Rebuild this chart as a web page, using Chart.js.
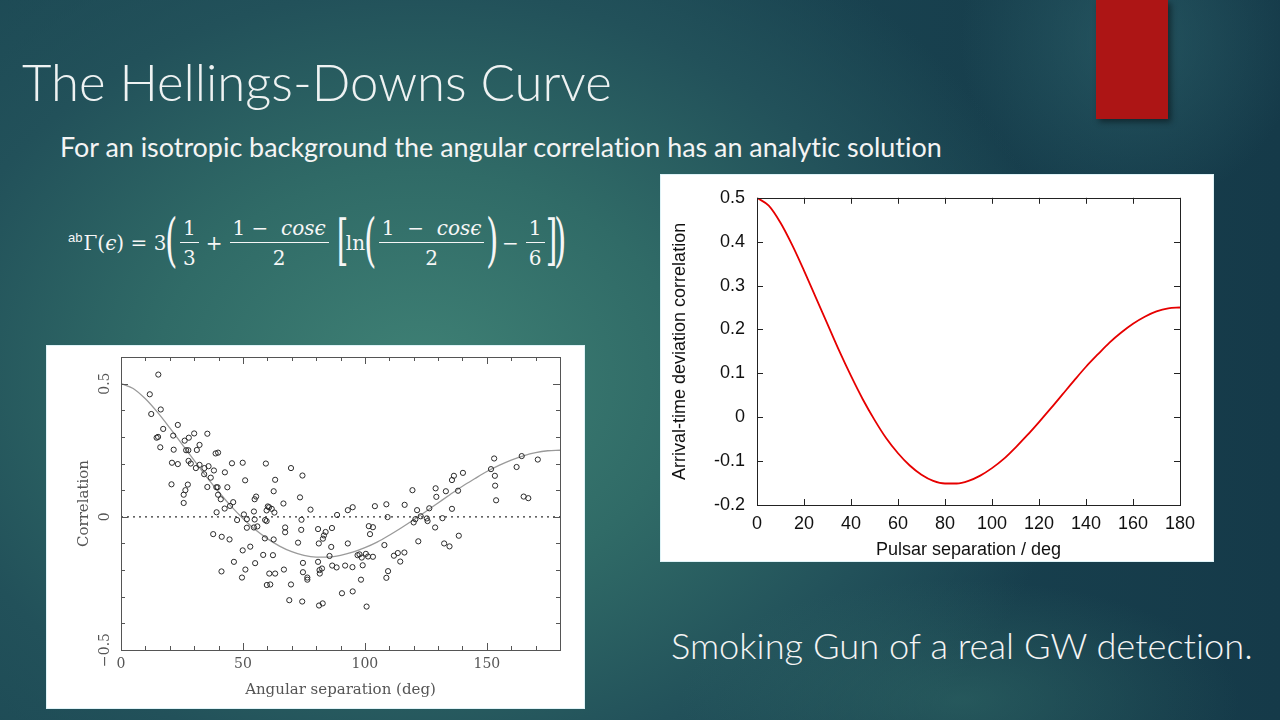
<!DOCTYPE html>
<html><head><meta charset="utf-8">
<script src="https://cdn.jsdelivr.net/npm/chart.js@4.4.1/dist/chart.umd.min.js"></script>
<style>
html,body{margin:0;padding:0;width:1280px;height:720px;overflow:hidden;}
body{position:relative;font-family:'Lato','Open Sans',sans-serif;color:#f2f2f2;font-variant-ligatures:none;
background:
 radial-gradient(circle 170px at 1130px 40px, rgba(48,104,112,0.55), rgba(48,104,112,0) 100%),
 radial-gradient(ellipse 280px 120px at 960px 700px, rgba(52,112,106,0.5), rgba(52,112,106,0)),
 radial-gradient(ellipse 660px 520px at 420px 380px, #3f8175 0%, #306b67 40%, #22515a 75%, rgba(27,68,80,0) 100%),
 linear-gradient(90deg, #1d4a55 0%, #1a4552 50%, #153a49 100%);}
.txt{position:absolute;white-space:nowrap;line-height:1;font-variant-ligatures:none;}
#title{left:22px;top:57px;font-size:50px;font-weight:300;color:#eef2f2;}
#sub{left:60px;top:134px;font-size:22px;font-weight:400;color:#f4f4f4;}
#smoke{left:671px;top:627px;font-size:32px;font-weight:300;color:#f4f4f4;}
#redbox{position:absolute;left:1096px;top:0;width:72px;height:119px;background:#ad1515;box-shadow:3px 3px 6px rgba(0,0,0,0.45);}
#formula{position:absolute;left:68px;top:207px;height:72px;display:flex;align-items:center;font-family:'DejaVu Serif','Liberation Serif',serif;font-size:20px;color:#f6f6f6;white-space:nowrap;}
#formula .sup{font-family:'Liberation Sans',sans-serif;font-size:13px;position:relative;top:-6px;margin-right:1px;}
#formula .frac{display:inline-flex;flex-direction:column;align-items:center;margin:0 3px;}
#formula .num{border-bottom:1.3px solid #f6f6f6;padding:0 3px 2px 3px;}
#formula .den{padding-top:3px;}
#formula .bigp{font-size:58px;font-weight:200;transform:scaleX(0.55);display:inline-block;margin:0 -6px;position:relative;top:-3px;}
#formula .bigb{font-size:54px;font-weight:200;transform:scaleX(0.55);display:inline-block;margin:0 -7px;position:relative;top:-3px;}
#formula .op{margin:0 4px;}
#formula i{font-style:italic;}
.box{position:absolute;background:#fff;box-shadow:0 0 0 1px #dff3f7;}
#box1{left:47px;top:346px;width:537px;height:362px;}
#box2{left:661px;top:175px;width:552px;height:386px;}
canvas{display:block;}
</style></head>
<body>
<div id="redbox"></div>
<div class="txt" id="title" data-w="590">The Hellings-Downs Curve</div>
<div class="txt" id="sub" data-w="882">For an isotropic background the angular correlation has an analytic solution</div>
<div id="formula">
 <span class="sup">ab</span><span>Γ(</span><i>ϵ</i><span>) = 3</span>
 <span class="bigp">(</span>
 <span class="frac"><span class="num">1</span><span class="den">3</span></span>
 <span class="op">+</span>
 <span class="frac"><span class="num">1 −&nbsp; <i>cosϵ</i></span><span class="den">2</span></span>
 <span class="bigb" style="margin-left:0">[</span>
 <span>ln</span>
 <span class="bigp">(</span>
 <span class="frac"><span class="num">1 &nbsp;− &nbsp;<i>cosϵ</i></span><span class="den">2</span></span>
 <span class="bigp">)</span>
 <span class="op">−</span>
 <span class="frac"><span class="num">1</span><span class="den">6</span></span>
 <span class="bigb">]</span><span class="bigp">)</span>
</div>
<div class="box" id="box1"><canvas id="c1" width="537" height="362"></canvas></div>
<div class="box" id="box2"><canvas id="c2" width="552" height="386"></canvas></div>
<div class="txt" id="smoke" data-w="582">Smoking Gun of a real GW detection.</div>
<script>
// ---- data ----
const scatterDeg = [15.3,11.8,12.4,16.3,17.3,14.6,15.2,16.1,21.4,23.3,
21.6,20.9,23.3,20.7,25.7,25.7,26.4,27.4,26.1,27.8,
30.0,26.7,27.6,27.7,28.6,31.1,32.2,30.7,32.2,34.2,
34.1,35.4,35.9,36.8,35.4,38.1,38.8,39.8,39.1,39.6,
39.8,40.9,39.2,42.6,43.6,42.5,44.7,46.0,45.5,37.8,
41.3,44.5,41.2,46.3,47.6,49.9,50.9,50.4,51.6,51.6,
49.9,51.0,49.6,53.0,54.5,54.8,55.4,54.8,54.5,55.9,
55.0,59.4,59.1,59.7,60.2,59.7,60.7,61.8,62.9,63.2,
62.6,62.6,59.0,58.3,62.3,60.8,63.2,59.8,61.2,66.6,
67.3,67.3,66.8,69.7,69.7,69.0,73.4,74.0,73.9,72.6,
74.4,74.6,74.6,76.4,76.4,74.3,77.7,80.8,81.1,80.8,
81.4,81.5,82.4,81.2,82.7,82.8,83.2,83.9,86.5,86.2,
85.5,86.6,88.4,88.6,90.6,91.9,93.0,93.0,95.0,94.9,
95.0,97.0,97.8,98.7,99.1,98.4,100.4,101.3,100.7,101.6,
103.3,102.1,103.3,104.1,108.0,108.8,109.3,109.5,108.8,111.9,
113.5,114.5,116.2,116.3,119.5,120.0,120.7,121.4,121.9,122.9,
125.4,125.7,126.4,129.0,129.3,128.8,131.8,132.5,133.2,134.7,
135.7,135.7,136.5,138.2,138.5,140.2,151.7,153.0,153.3,153.4,
153.8,162.2,164.3,165.1,167.0,170.9];
const scatterCorr = [0.534,0.46,0.386,0.403,0.33,0.297,0.30,0.261,0.305,0.345,
0.252,0.203,0.198,0.122,0.052,0.083,0.10,0.121,0.286,0.297,
0.313,0.25,0.25,0.21,0.20,0.251,0.27,0.183,0.195,0.183,
0.16,0.312,0.19,0.147,0.112,0.174,0.238,0.241,0.111,0.111,
0.083,0.066,0.017,0.167,0.111,0.031,0.041,0.055,0.201,-0.065,
-0.075,-0.085,-0.205,-0.169,-0.012,0.203,0.137,0.009,-0.009,-0.041,
-0.126,-0.198,-0.228,-0.112,0.02,0.066,0.076,-0.01,-0.04,-0.036,
-0.174,0.20,-0.012,-0.016,0.039,0.024,0.036,0.03,0.016,0.139,
0.096,-0.085,-0.081,-0.143,-0.144,-0.213,-0.213,-0.256,-0.254,0.05,
-0.04,-0.058,-0.198,0.183,-0.254,-0.313,0.073,-0.011,-0.049,-0.097,
0.155,-0.173,-0.208,-0.228,-0.236,-0.318,0.027,-0.046,-0.10,-0.169,
-0.20,-0.213,-0.194,-0.333,-0.325,-0.082,-0.07,-0.057,-0.042,-0.113,
-0.147,-0.183,-0.19,0.007,-0.287,-0.183,-0.10,0.025,0.036,-0.189,
-0.28,-0.144,-0.141,-0.153,-0.182,-0.236,-0.139,-0.149,-0.337,-0.035,
-0.039,-0.065,-0.15,0.04,-0.106,0.047,-0.001,-0.204,-0.229,-0.146,
-0.136,-0.168,-0.134,0.045,0.10,-0.021,-0.009,0.025,-0.092,0.002,
-0.006,-0.016,0.032,0.107,0.075,-0.04,-0.005,-0.10,0.096,-0.111,
0.03,0.138,0.154,0.098,-0.071,0.165,0.179,0.219,0.154,0.117,
0.062,0.187,0.228,0.076,0.07,0.215];
// Hellings-Downs curve (separation in degrees, correlation)
const curveDeg  = [0,5,10,15,20,25,30,35,40,45,50,55,60,65,70,75,80,85,90,95,100,105,110,115,120,125,130,135,140,145,150,155,160,165,170,175,180];
const curveCorr = [0.500,0.482,0.443,0.392,0.334,0.273,0.212,0.151,0.094,0.041,-0.006,-0.048,-0.082,-0.110,-0.131,-0.145,-0.151,-0.151,-0.145,-0.133,-0.116,-0.095,-0.069,-0.041,-0.011,0.020,0.052,0.084,0.115,0.143,0.170,0.193,0.213,0.229,0.241,0.248,0.250];
// dotted zero reference line on the left plot
const zeroLineDeg = [0,180];
const zeroLineCorr = [0,0];
// axis tick labels
const leftXLabels = ['0','50','100','150'];
const leftYLabels = ['0.5','0','\u22120.5'];
const leftYLabelValues = [0.5,0,-0.5];
const rightXTicks = ['0','20','40','60','80','100','120','140','160','180'];

// fit slide text widths
document.querySelectorAll('[data-w]').forEach(el=>{
  const t=+el.dataset.w, w=el.getBoundingClientRect().width;
  const fs=parseFloat(getComputedStyle(el).fontSize);
  el.style.fontSize=(fs*t/w)+'px';
});

const pts = (xs,ys)=>xs.map((x,i)=>({x:x,y:ys[i]}));

// draws the closed frame with inward ticks on all 4 sides (positions from the chart's scales)
const frameTicks = {
  id:'frameTicks',
  afterDatasetsDraw(chart, args, o){
    const {ctx, chartArea:a} = chart;
    const x = chart.scales.x, y = chart.scales.y;
    ctx.save();
    ctx.strokeStyle=o.color; ctx.lineWidth=o.lw;
    ctx.strokeRect(Math.round(a.left)+0.5, Math.round(a.top)+0.5, Math.round(a.right-a.left), Math.round(a.bottom-a.top));
    ctx.beginPath();
    x.ticks.forEach(t=>{
      const p=Math.round(x.getPixelForValue(t.value))+0.5;
      const L=o.isMajorX(t.value)?o.major:o.minor;
      ctx.moveTo(p,a.bottom); ctx.lineTo(p,a.bottom-L);
      ctx.moveTo(p,a.top); ctx.lineTo(p,a.top+L);
    });
    y.ticks.forEach(t=>{
      const p=Math.round(y.getPixelForValue(t.value))+0.5;
      const L=o.isMajorY(t.value)?o.major:o.minor;
      ctx.moveTo(a.left,p); ctx.lineTo(a.left+L,p);
      ctx.moveTo(a.right,p); ctx.lineTo(a.right-L,p);
    });
    ctx.stroke();
    if(o.rotLabels){
      ctx.fillStyle=o.labelColor; ctx.font=o.labelFont;
      ctx.textAlign='center'; ctx.textBaseline='middle';
      o.rotLabels.values.forEach((v,i)=>{
        const p=y.getPixelForValue(v);
        ctx.save(); ctx.translate(a.left-o.rotLabels.offset,p); ctx.rotate(-Math.PI/2);
        ctx.fillText(o.rotLabels.texts[i],0,0); ctx.restore();
      });
    }
    ctx.restore();
  }
};

const serif = "'DejaVu Serif', serif";
new Chart(document.getElementById('c1'), {
  type:'scatter',
  data:{datasets:[
    {type:'line',data:pts(zeroLineDeg,zeroLineCorr),borderColor:'#333',borderWidth:1.3,borderDash:[2,4],pointRadius:0,order:3},
    {type:'line',data:pts(curveDeg,curveCorr),borderColor:'#9a9a9a',borderWidth:1.3,pointRadius:0,cubicInterpolationMode:'monotone',order:2},
    {type:'scatter',data:pts(scatterDeg,scatterCorr),pointStyle:'circle',pointRadius:2.6,pointBorderWidth:1,
      pointBorderColor:'#2a2a2a',pointBackgroundColor:'rgba(0,0,0,0)',order:1}
  ]},
  options:{
    responsive:false,animation:false,
    layout:{padding:{left:0,right:24,top:11,bottom:0}},
    plugins:{legend:{display:false},tooltip:{enabled:false},
      frameTicks:{color:'#555',lw:1,major:7,minor:4,
        isMajorX:v=>Math.abs(v%50)<1e-6,
        isMajorY:v=>Math.abs(v*2-Math.round(v*2))<1e-6,
        rotLabels:{values:leftYLabelValues,texts:leftYLabels,offset:16},
        labelColor:'#555',labelFont:"14px "+serif}},
    scales:{
      x:{type:'linear',min:0,max:180,
        afterFit:s=>{s.height=58;},
        grid:{display:false,drawTicks:false},border:{display:false},
        ticks:{stepSize:10,autoSkip:false,maxRotation:0,padding:6,color:'#555',font:{family:serif,size:14},
          callback:v=>{const i=[0,50,100,150].indexOf(v);return i>=0?leftXLabels[i]:'';}},
        title:{display:true,text:'Angular separation (deg)',color:'#555',font:{family:serif,size:15},padding:9}},
      y:{type:'linear',min:-0.5,max:0.6,
        afterFit:s=>{s.width=74;},
        grid:{display:false,drawTicks:false},border:{display:false},
        ticks:{stepSize:0.1,display:false},
        title:{display:true,text:'Correlation',color:'#555',font:{family:serif,size:15},padding:28}}
    }
  },
  plugins:[frameTicks]
});

const sans = "'Liberation Sans', Arial, sans-serif";
new Chart(document.getElementById('c2'), {
  type:'line',
  data:{datasets:[
    {data:pts(curveDeg,curveCorr),borderColor:'#e60000',borderWidth:1.8,pointRadius:0,cubicInterpolationMode:'monotone'}
  ]},
  options:{
    responsive:false,animation:false,
    layout:{padding:{left:0,right:33,top:22,bottom:0}},
    plugins:{legend:{display:false},tooltip:{enabled:false},
      frameTicks:{color:'#222',lw:1,major:6,minor:6,isMajorX:()=>true,isMajorY:()=>true}},
    scales:{
      x:{type:'linear',min:0,max:180,
        afterFit:s=>{s.height=56;},
        grid:{display:false,drawTicks:false},border:{display:false},
        ticks:{stepSize:20,autoSkip:false,maxRotation:0,padding:8,color:'#111',font:{family:sans,size:18},
          callback:v=>rightXTicks[Math.round(v/20)]},
        title:{display:true,text:'Pulsar separation / deg',color:'#111',font:{family:sans,size:18},padding:0}},
      y:{type:'linear',min:-0.2,max:0.5,
        afterFit:s=>{s.width=96;},
        grid:{display:false,drawTicks:false},border:{display:false},
        ticks:{stepSize:0.1,padding:12,color:'#111',font:{family:sans,size:18},
          callback:v=>{const r=Math.round(v*10)/10;return r===0?'0':r.toFixed(1);}},
        title:{display:true,text:'Arrival-time deviation correlation',color:'#111',font:{family:sans,size:18},padding:8}}
    }
  },
  plugins:[frameTicks]
});
</script>
</body></html>
